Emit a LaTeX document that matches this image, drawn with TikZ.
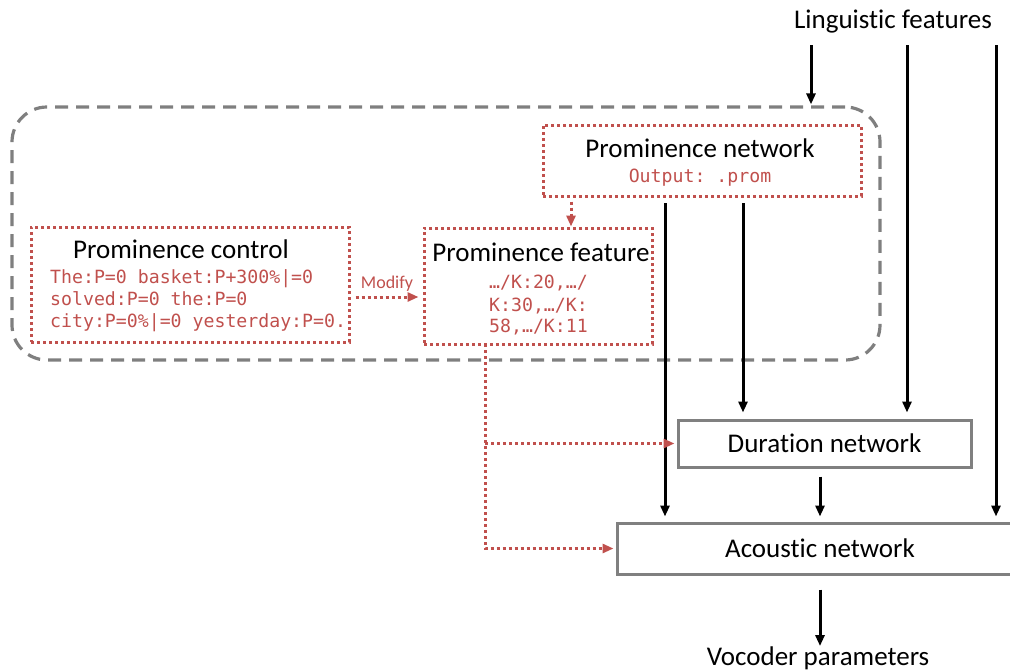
\documentclass[tikz,border=0pt]{standalone}
\usepackage{fontspec}
\setmainfont{Carlito}[RawFeature={-liga;-clig;-calt}]
\setmonofont{DejaVu Sans Mono}
\usetikzlibrary{arrows.meta,positioning,calc}
\definecolor{promred}{HTML}{C0504D}
\definecolor{boxgray}{HTML}{808080}
\definecolor{dashgray}{HTML}{7F7F7F}

\begin{document}
\begin{tikzpicture}[x=1pt,y=-1pt]

\tikzset{>={Triangle[width=9pt,length=11pt]}}
\tikzset{redbox/.style={draw=promred,line width=3pt,dash pattern=on 3pt off 3pt,rectangle,inner sep=0pt},
	graybox/.style={draw=boxgray,line width=3pt,rectangle,inner sep=0pt,font=\fontsize{27}{32}\selectfont},
	title/.style={font=\fontsize{27}{32}\selectfont,inner sep=0pt,anchor=base},
	code/.style={font=\ttfamily\fontsize{18.2}{22}\selectfont,text=promred,inner sep=0pt,anchor=base west},
	redarrow/.style={->,draw=promred,line width=3pt,dash pattern=on 3pt off 3pt},
	blackarrow/.style={->,line width=3pt}}

\useasboundingbox (0,0) rectangle (1010,670);

%===================================================================
\node[draw=dashgray,line width=3.2pt,dash pattern=on 13pt off 8pt,rounded corners=35pt,rectangle,minimum width=868pt,minimum height=253pt] (grp) at (446,233.5) {};

\node[redbox,minimum width=318pt,minimum height=71pt] (pnet) at (702,160.5) {};
\node[title] (pnettxt) at (700,157) {Prominence network};
\node[code,anchor=base] (pnetout) at (700,182) {Output: .prom};

\node[redbox,minimum width=318pt,minimum height=115pt] (pctrl) at (190,284.5) {};
\node[title] (pctrltxt) at (181,258) {Prominence control};
\node[code] (ctl1) at (50,283) {The:P=0 basket:P+300\%|=0};
\node[code] (ctl2) at (50,305) {solved:P=0 the:P=0};
\node[code] (ctl3) at (50,327) {city:P=0\%|=0 yesterday:P=0.};

\node[redbox,minimum width=228pt,minimum height=116pt] (pfeat) at (538,286) {};
\node[title] (pfeattxt) at (541,261) {Prominence feature};
\node[code] (ft1) at (489,288) {…/K:20,…/};
\node[code] (ft2) at (489,311) {K:30,…/K:};
\node[code] (ft3) at (489,332) {58,…/K:11};

\node[font=\fontsize{18}{22}\selectfont,text=promred,inner sep=0pt,anchor=base] (modify) at (387,288) {Modify};

%===================================================================
\node[graybox,minimum width=293pt,minimum height=47pt] (dur) at (824.5,443.5) {Duration network};
\node[graybox,minimum width=406pt,minimum height=51pt] (acou) at (820,548.5) {Acoustic network};

\node[title] (ling) at (893,28) {Linguistic features};
\node[title] (voc) at (818,665) {Vocoder parameters};

\coordinate (l1) at (811,45);
\coordinate (l2) at (907,45);
\coordinate (l3) at (996,45);
\coordinate (pa) at (665,203);
\coordinate (pd) at (743,203);
\coordinate (fb) at (485,344);

%===================================================================
\draw[blackarrow,shorten >=1pt] (l1)--(l1 |- grp.north);
\draw[blackarrow,shorten >=6pt] (l2)--(l2 |- dur.north);
\draw[blackarrow,shorten >=5pt] (l3)--(l3 |- acou.north);
\draw[blackarrow,shorten >=5pt] (pa)--(pa |- acou.north);
\draw[blackarrow,shorten >=6pt] (pd)--(pd |- dur.north);
\draw[blackarrow,shorten <=8pt,shorten >=5pt] (dur.south -| acou.north)--(acou.north);
\draw[blackarrow,shorten <=14pt] (acou.south)--(acou.south |- voc.north);

\draw[redarrow,shorten >=4pt] ([xshift=5pt,yshift=-12.5pt]pctrl.east)--([yshift=-11pt]pfeat.west);
\draw[redarrow,shorten <=4pt] ([xshift=-131pt]pnet.south)--([xshift=33pt]pfeat.north);
\draw[redarrow,shorten >=2pt] (fb) |- (acou.west);
\draw[redarrow,shorten >=2pt] (fb |- dur.west)--(dur.west);

\end{tikzpicture}
\end{document}
